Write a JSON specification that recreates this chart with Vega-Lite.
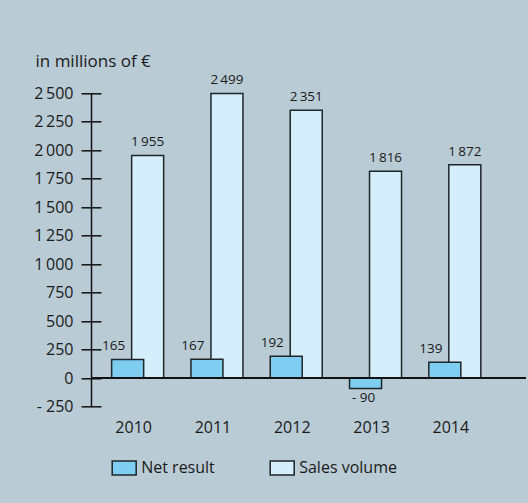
{
  "$schema": "https://vega.github.io/schema/vega-lite/v6.json",
  "autosize": {"type": "none"},
  "width": 435,
  "height": 313.4,
  "padding": {"left": 91, "top": 93.3, "right": 2, "bottom": 96.3},
  "background": "#b9cbd4",
  "config": {
    "font": "Open Sans",
    "view": {"stroke": null},
    "axis": {"grid": false, "labelColor": "#1a1a1a", "titleColor": "#1a1a1a"},
    "text": {"color": "#1a1a1a", "font": "Open Sans"}
  },
  "data": {
    "values": [
      {"year": "2010", "series": "Sales volume", "value": 1955, "label": "1\u2009955"},
      {"year": "2011", "series": "Sales volume", "value": 2499, "label": "2\u2009499"},
      {"year": "2012", "series": "Sales volume", "value": 2351, "label": "2\u2009351"},
      {"year": "2013", "series": "Sales volume", "value": 1816, "label": "1\u2009816"},
      {"year": "2014", "series": "Sales volume", "value": 1872, "label": "1\u2009872"},
      {"year": "2010", "series": "Net result", "value": 165, "label": "165"},
      {"year": "2011", "series": "Net result", "value": 167, "label": "167"},
      {"year": "2012", "series": "Net result", "value": 192, "label": "192"},
      {"year": "2013", "series": "Net result", "value": -90, "label": "- 90"},
      {"year": "2014", "series": "Net result", "value": 139, "label": "139"}
    ]
  },
  "encoding": {
    "x": {
      "field": "year",
      "type": "ordinal",
      "scale": {"paddingInner": 0, "paddingOuter": 0.243, "align": 0.078},
      "axis": {
        "title": null,
        "domain": false,
        "ticks": false,
        "labelAngle": 0,
        "labelFontSize": 16,
        "labelPadding": 13
      }
    }
  },
  "resolve": {"scale": {"y": "independent"}, "axis": {"y": "independent"}},
  "layer": [
    {
      "layer": [
        {
          "transform": [{"filter": "datum.series == 'Sales volume'"}],
          "mark": {"type": "bar", "width": 32, "xOffset": 14, "stroke": "#1f2629", "strokeWidth": 1.5},
          "encoding": {
            "y": {
              "field": "value",
              "type": "quantitative",
              "scale": {"domain": [-250, 2500], "nice": false, "zero": false},
              "axis": {
                "orient": "left",
                "domain": true,
                "domainColor": "#111111",
                "domainWidth": 1.5,
                "ticks": false,
                "labels": false,
                "title": "in millions of \u20ac",
                "titleAngle": 0,
                "titleAlign": "left",
                "titleBaseline": "middle",
                "titleX": -56,
                "titleY": -32,
                "titleFontSize": 17,
                "titleFontWeight": "normal"
              }
            },
            "fill": {
              "field": "series",
              "type": "nominal",
              "scale": {"domain": ["Net result", "Sales volume"], "range": ["#7fcef1", "#d5eefb"]},
              "legend": {
                "orient": "none",
                "direction": "horizontal",
                "legendX": 20.2,
                "legendY": 361.7,
                "title": null,
                "padding": 0,
                "symbolType": "M-1,-0.583H1V0.583H-1Z",
                "symbolSize": 576,
                "symbolStrokeColor": "#1f2629",
                "symbolStrokeWidth": 1.5,
                "symbolOpacity": 1,
                "labelFontSize": 16,
                "labelColor": "#1a1a1a",
                "labelOffset": 4,
                "columnPadding": 52
              }
            }
          }
        },
        {
          "transform": [{"filter": "datum.series == 'Sales volume'"}],
          "mark": {"type": "text", "dx": 14, "dy": -13, "baseline": "middle", "align": "center", "fontSize": 13.5},
          "encoding": {
            "y": {"field": "value", "type": "quantitative"},
            "text": {"field": "label"}
          }
        }
      ]
    },
    {
      "layer": [
        {
          "transform": [{"filter": "datum.series == 'Net result'"}],
          "mark": {"type": "bar", "width": 32, "xOffset": -6, "stroke": "#1f2629", "strokeWidth": 1.5},
          "encoding": {
            "y": {
              "field": "value",
              "type": "quantitative",
              "scale": {"domain": [-250, 2500], "nice": false, "zero": false},
              "axis": {
                "orient": "left",
                "offset": -10,
                "domain": false,
                "ticks": true,
                "tickSize": 20,
                "tickWidth": 1.5,
                "tickColor": "#111111",
                "tickCount": 20,
                "values": [-250, 0, 250, 500, 750, 1000, 1250, 1500, 1750, 2000, 2250, 2500],
                "labelOverlap": false,
                "labelExpr": "datum.value < 0 ? '- ' + format(-datum.value, 'd') : replace(format(datum.value, ','), ',', '\u2009')",
                "labelFontSize": 16,
                "labelPadding": 8,
                "title": null
              }
            },
            "fill": {"field": "series", "type": "nominal"}
          }
        },
        {
          "mark": {"type": "rule", "stroke": "#111111", "strokeWidth": 1.5},
          "encoding": {"y": {"datum": 0, "type": "quantitative"}, "x": null}
        },
        {
          "transform": [{"filter": "datum.series == 'Net result' && datum.value >= 0"}],
          "mark": {"type": "text", "dx": -20, "dy": -13, "baseline": "middle", "align": "center", "fontSize": 13.5},
          "encoding": {
            "y": {"field": "value", "type": "quantitative"},
            "text": {"field": "label"}
          }
        },
        {
          "transform": [{"filter": "datum.series == 'Net result' && datum.value < 0"}],
          "mark": {"type": "text", "dx": -8, "dy": 10, "baseline": "middle", "align": "center", "fontSize": 13.5},
          "encoding": {
            "y": {"field": "value", "type": "quantitative"},
            "text": {"field": "label"}
          }
        }
      ]
    }
  ]
}
